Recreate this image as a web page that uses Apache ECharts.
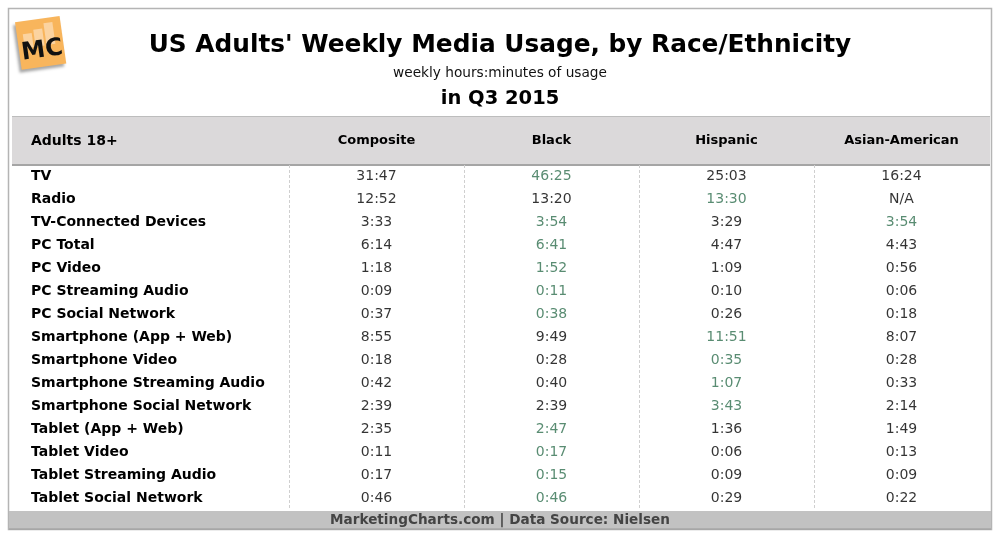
<!DOCTYPE html>
<html>
<head>
<meta charset="utf-8">
<script src="https://cdn.jsdelivr.net/npm/echarts@6/dist/echarts.min.js"></script>
<style>html,body{margin:0;padding:0;background:#fff}#c{width:1000px;height:539px}</style>
</head>
<body>
<div id="c"></div>
<script>
const titleText = "US Adults' Weekly Media Usage, by Race/Ethnicity";
const subtitleText = "weekly hours:minutes of usage";
const periodText = "in Q3 2015";
const cornerHeader = "Adults 18+";
const footerText = "MarketingCharts.com | Data Source: Nielsen";

const columns = ["Composite", "Black", "Hispanic", "Asian-American"];
const rows = ["TV", "Radio", "TV-Connected Devices", "PC Total", "PC Video", "PC Streaming Audio",
  "PC Social Network", "Smartphone (App + Web)", "Smartphone Video", "Smartphone Streaming Audio",
  "Smartphone Social Network", "Tablet (App + Web)", "Tablet Video", "Tablet Streaming Audio",
  "Tablet Social Network"];
const composite = ["31:47","12:52","3:33","6:14","1:18","0:09","0:37","8:55","0:18","0:42","2:39","2:35","0:11","0:17","0:46"];
const black     = ["46:25","13:20","3:54","6:41","1:52","0:11","0:38","9:49","0:28","0:40","2:39","2:47","0:17","0:15","0:46"];
const hispanic  = ["25:03","13:30","3:29","4:47","1:09","0:10","0:26","11:51","0:35","1:07","3:43","1:36","0:06","0:09","0:29"];
const asian     = ["16:24","N/A","3:54","4:43","0:56","0:06","0:18","8:07","0:28","0:33","2:14","1:49","0:13","0:09","0:22"];

const FONT = "'DejaVu Sans', Verdana, sans-serif";
const GREEN = "#2f6f4f";
const TEXT = "#000000";

function toMin(s) {
  if (!s || s === "N/A") return -1;
  const p = s.split(":");
  return (+p[0]) * 60 + (+p[1]);
}
const colData = [composite, black, hispanic, asian];
// highlight: highest value among the race/ethnicity groups (not composite)
const maxRace = rows.map((r, i) => Math.max(toMin(black[i]), toMin(hispanic[i]), toMin(asian[i])));

const series = colData.map((arr, ci) => ({
  type: 'scatter',
  name: columns[ci],
  symbolSize: 1,
  itemStyle: { color: 'rgba(0,0,0,0)' },
  silent: true,
  label: {
    show: true, position: 'inside', fontFamily: FONT, fontSize: 14,
    formatter: p => p.data.text
  },
  data: arr.map((v, ri) => ({
    value: [columns[ci], rows[ri]],
    text: v,
    label: { color: (ci > 0 && toMin(v) === maxRace[ri] && toMin(v) >= 0) ? GREEN : TEXT }
  }))
}));

const chart = echarts.init(document.getElementById('c'), null, { renderer: 'canvas' });
chart.setOption({
  animation: false,
  backgroundColor: '#ffffff',
  grid: { left: 289, right: 11, top: 165, bottom: 29 },
  xAxis: {
    type: 'category', data: columns, position: 'top',
    axisLine: { show: false }, axisTick: { show: false },
    axisLabel: { fontFamily: FONT, fontWeight: 'bold', fontSize: 13, color: TEXT, margin: 24, verticalAlign: 'middle' },
    splitLine: { show: true, showMaxLine: false, lineStyle: { color: '#cfcfcf', type: [3, 2], width: 1 } }
  },
  yAxis: {
    type: 'category', data: rows, inverse: true,
    axisLine: { show: false }, axisTick: { show: false },
    axisLabel: { fontFamily: FONT, fontWeight: 'bold', fontSize: 14, color: TEXT, margin: 258, align: 'left' },
    splitLine: { show: false }
  },
  series: series,
  graphic: [
    { type: 'rect', z: -10, shape: { x: 8.5, y: 8.5, width: 983, height: 521 }, style: { fill: '#fff', stroke: '#b4b4b4', lineWidth: 1.5 } },
    { type: 'rect', z: -5, shape: { x: 12, y: 116, width: 978, height: 49 }, style: { fill: '#dbd9da', stroke: null } },
    { type: 'line', z: -4, shape: { x1: 12, y1: 116.5, x2: 990, y2: 116.5 }, style: { stroke: '#bdbdbd', lineWidth: 1 } },
    { type: 'line', z: -4, shape: { x1: 12, y1: 165, x2: 990, y2: 165 }, style: { stroke: '#a5a5a5', lineWidth: 2 } },
    { type: 'rect', z: -5, shape: { x: 9, y: 511, width: 982, height: 18 }, style: { fill: '#c2c2c2' } },
    { type: 'line', z: -4, shape: { x1: 9, y1: 529, x2: 991, y2: 529 }, style: { stroke: '#9a9a9a', lineWidth: 1 } },
    { type: 'text', x: 500, y: 520, style: { text: footerText, fontFamily: FONT, fontWeight: 'bold', fontSize: 13.6, fill: '#444', align: 'center', verticalAlign: 'middle' } },
    { type: 'text', x: 500, y: 46, style: { text: titleText, fontFamily: FONT, fontWeight: 'bold', fontSize: 24.8, fill: TEXT, align: 'center', verticalAlign: 'middle' } },
    { type: 'text', x: 500, y: 73, style: { text: subtitleText, fontFamily: FONT, fontSize: 13.7, fill: '#111', align: 'center', verticalAlign: 'middle' } },
    { type: 'text', x: 500, y: 99, style: { text: periodText, fontFamily: FONT, fontWeight: 'bold', fontSize: 19.5, fill: TEXT, align: 'center', verticalAlign: 'middle' } },
    { type: 'text', x: 31, y: 141, style: { text: cornerHeader, fontFamily: FONT, fontWeight: 'bold', fontSize: 14, fill: TEXT, align: 'left', verticalAlign: 'middle' } },
    {
      type: 'group', x: 40, y: 42, rotation: 0.14,
      children: [
        { type: 'rect', shape: { x: -22, y: -23, width: 45, height: 48 }, style: { fill: '#f8b55c', shadowBlur: 3, shadowOffsetX: -2, shadowOffsetY: 3, shadowColor: 'rgba(0,0,0,0.35)' } },
        { type: 'rect', shape: { x: -16, y: -10, width: 9, height: 14 }, style: { fill: '#fbd3a0' } },
        { type: 'rect', shape: { x: -5, y: -13, width: 9, height: 17 }, style: { fill: '#fbd3a0' } },
        { type: 'rect', shape: { x: 6, y: -18, width: 9, height: 22 }, style: { fill: '#fbd3a0' } },
        { type: 'text', x: 1, y: 9, style: { text: 'MC', fontFamily: FONT, fontWeight: 'bold', fontSize: 24, fill: '#111', align: 'center', verticalAlign: 'middle' } }
      ]
    }
  ]
});
</script>
</body>
</html>
